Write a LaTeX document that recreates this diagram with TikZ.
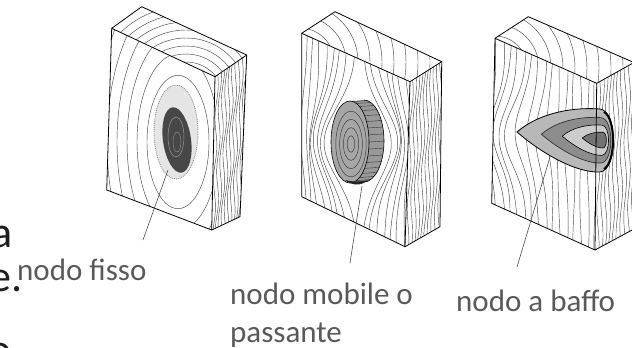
\documentclass[tikz,border=0pt]{standalone}
\usepackage{fontspec}
\setmainfont{Carlito}
\definecolor{labelgray}{RGB}{89,89,89}
\definecolor{bodyblack}{RGB}{30,30,30}
\tikzset{
  edge/.style={draw=black, line width=0.8pt, line join=round},
  faceFill/.style={fill=white},
  grain/.style={draw=black!72, line width=0.45pt},
  leader/.style={draw=black!70, line width=0.6pt},
  lbl/.style={text=labelgray, font=\fontsize{31}{38}\selectfont, inner sep=0pt, anchor=base west},
  bodytxt/.style={text=bodyblack, font=\fontsize{44}{53}\selectfont, inner sep=0pt, anchor=base west},
}
\begin{document}
\begin{tikzpicture}[x=1pt,y=-1pt]
\useasboundingbox (0,0) rectangle (632,348);

% ================= Block 1 : nodo fisso =================
\coordinate (b1a) at (111.7,28.3);
\coordinate (b1b) at (215,76.7);
\coordinate (b1c) at (211.7,230);
\coordinate (b1d) at (106.7,190);
\coordinate (b1e) at (141.7,6.7);
\coordinate (b1f) at (246.7,55);
\coordinate (b1g) at (240,216.7);
\path[faceFill] (b1a)--(b1e)--(b1f)--(b1g)--(b1c)--(b1d)--cycle;
% front face grain
\begin{scope}
  \clip (b1a)--(b1b)--(b1c)--(b1d)--cycle;
  \foreach \r [evaluate=\r as \ry using 2.15*\r] in {31,41,51,61,71,82}{
    \draw[grain] (178,142) ellipse [x radius=\r, y radius=\ry];
  }
\end{scope}
% top face grain
\begin{scope}
  \clip (b1a)--(b1e)--(b1f)--(b1b)--cycle;
  \foreach \r in {30,38,...,94}{
    \draw[grain] (186,100) circle [radius=\r];
  }
\end{scope}
% right face grain
\begin{scope}
  \clip (b1b)--(b1f)--(b1g)--(b1c)--cycle;
  \foreach \u in {0.07,0.17,...,0.97}{
    \draw[grain] plot[domain=0:1, samples=25, smooth, variable=\t]
      ({215+31.7*\u+(-3.3-3.4*\u)*\t+1.3*sin(\t*900+\u*400)}, {76.7-21.7*\u+(153.3+8.4*\u)*\t});
  }
\end{scope}
% knot 1
\draw[black!45, densely dotted, line width=0.9pt, fill=black!10] (176,132) ellipse [x radius=22, y radius=47];
\fill[black!72, rotate around={8:(177,140)}] (177,140) ellipse [x radius=14, y radius=33];
\draw[black!40, line width=0.5pt] (176,137) ellipse [x radius=8, y radius=20];
\draw[black!45, line width=0.5pt] (177,142) ellipse [x radius=4, y radius=10];
\draw[edge] (b1a)--(b1b)--(b1c)--(b1d)--cycle;
\draw[edge] (b1a)--(b1e)--(b1f)--(b1b);
\draw[edge] (b1f)--(b1g)--(b1c);
\coordinate (k1) at (168,170);
\coordinate (l1) at (143,240);
\draw[leader] (k1) -- (l1);

% ================= Block 2 : nodo mobile / passante =================
\coordinate (b2a) at (301.7,33.3);
\coordinate (b2b) at (410,81.7);
\coordinate (b2c) at (405,246.7);
\coordinate (b2d) at (301.7,196.7);
\coordinate (b2e) at (335,11.7);
\coordinate (b2f) at (441.7,61.7);
\coordinate (b2g) at (440,226.7);
\path[faceFill] (b2a)--(b2e)--(b2f)--(b2g)--(b2c)--(b2d)--cycle;
\begin{scope}
  \clip (b2a)--(b2b)--(b2c)--(b2d)--cycle;
  \foreach \xb in {306,313,...,406}{
    \pgfmathsetmacro\sg{\xb<358 ? -1 : 1}
    \pgfmathsetmacro\amp{\sg*30*exp(-((\xb-358)/38)^2)}
    \pgfmathsetmacro\ph{mod(\xb*13,360)}
    \draw[grain] plot[domain=0:260, samples=50, smooth, variable=\t]
      ({\xb+\amp*exp(-((\t-142)/50)^2)+1.2*sin(2.2*\t+\ph)}, {\t});
  }
\end{scope}
\begin{scope}
  \clip (b2a)--(b2e)--(b2f)--(b2b)--cycle;
  \foreach \r in {22,34,...,150}{
    \draw[grain] (300,62) circle [radius=\r];
  }
\end{scope}
\begin{scope}
  \clip (b2b)--(b2f)--(b2g)--(b2c)--cycle;
  \foreach \u in {0.07,0.17,...,0.97}{
    \draw[grain] plot[domain=0:1, samples=25, smooth, variable=\t]
      ({410+31.7*\u+(-5+3.3*\u)*\t+1.3*sin(\t*800+\u*300)}, {81.7-20*\u+165*\t});
  }
\end{scope}
% knot 2 (cylinder)
\fill[black!40] (350,101) -- (364,100) arc[start angle=-90, end angle=90, x radius=20, y radius=41] -- (350,183) -- cycle;
\foreach \a in {-80,-70,...,80}{
  \draw[black!80, line width=0.4pt] ({350+19*cos(\a)},{142+41*sin(\a)}) -- ({364+20*cos(\a)},{141+41*sin(\a)});
}
\draw[black, line width=0.6pt] (364,100) arc[start angle=-90, end angle=90, x radius=20, y radius=41];
\draw[black, line width=0.6pt, fill=black!35] (350,142) ellipse [x radius=19, y radius=41];
\foreach \s in {0.8,0.6,0.4,0.2}{
  \draw[black!75, line width=0.5pt] (351,144) ellipse [x radius={19*\s}, y radius={41*\s}];
}
\fill[black!85] (345,180) .. controls (352,186) and (362,186) .. (368,180) .. controls (360,182) and (352,182) .. (345,180) -- cycle;
\draw[edge] (b2a)--(b2b)--(b2c)--(b2d)--cycle;
\draw[edge] (b2a)--(b2e)--(b2f)--(b2b);
\draw[edge] (b2f)--(b2g)--(b2c);
\coordinate (k2) at (362,186);
\coordinate (l2) at (350,263);
\draw[leader] (k2) -- (l2);

% ================= Block 3 : nodo a baffo =================
\coordinate (b3a) at (495,38.3);
\coordinate (b3b) at (596.7,83.3);
\coordinate (b3c) at (595,250);
\coordinate (b3d) at (491.7,203.3);
\coordinate (b3e) at (528.3,16.7);
\coordinate (b3f) at (634,62.5);
\coordinate (b3g) at (634,229);
\path[faceFill] (b3a)--(b3e)--(b3f)--(b3g)--(b3c)--(b3d)--cycle;
\begin{scope}
  \clip (b3a)--(b3b)--(b3c)--(b3d)--cycle;
  \foreach \xb in {497,504,...,598}{
    \pgfmathsetmacro\amp{-20*exp(-((\xb-520)/30)^2)}
    \pgfmathsetmacro\ph{mod(\xb*17,360)}
    \draw[grain] plot[domain=0:260, samples=50, smooth, variable=\t]
      ({\xb+\amp*exp(-((\t-135)/42)^2)+1.2*sin(2.4*\t+\ph)}, {\t});
  }
\end{scope}
\begin{scope}
  \clip (b3a)--(b3e)--(b3f)--(b3b)--cycle;
  \foreach \r in {20,32,...,150}{
    \draw[grain] (495,68) circle [radius=\r];
  }
\end{scope}
\begin{scope}
  \clip (b3b)--(b3f)--(b3g)--(b3c)--cycle;
  \foreach \u in {0.07,0.17,...,0.97}{
    \draw[grain] plot[domain=0:1, samples=25, smooth, variable=\t]
      ({596.7+37.3*\u+(-1.7+1.7*\u)*\t+1.3*sin(\t*800+\u*350)}, {83.3-20.8*\u+166.5*\t});
  }
\end{scope}
% knot 3 (spike)
\def\spike{(517,132) .. controls (540,112) and (575,107) .. (600,109) .. controls (618,111) and (618,170) .. (600,172) .. controls (575,173) and (540,152) .. (517,132) -- cycle}
\draw[black, line width=0.8pt, fill=black!28] \spike;
\begin{scope}[shift={(604,140)}, scale=0.72, shift={(-604,-140)}]
  \draw[black!80, line width=0.7pt, fill=black!45] \spike;
\end{scope}
\begin{scope}[shift={(604,140)}, scale=0.48, shift={(-604,-140)}]
  \draw[black, line width=0.6pt, fill=black!20] \spike;
\end{scope}
\begin{scope}[shift={(604,140)}, scale=0.25, shift={(-604,-140)}]
  \draw[black, line width=0.6pt, fill=black!55] \spike;
\end{scope}
\draw[black, line width=2pt] (604,112) .. controls (616,118) and (616,162) .. (604,169);
\draw[edge] (b3a)--(b3b)--(b3c)--(b3d)--cycle;
\draw[edge] (b3a)--(b3e)--(b3f);
\draw[edge] (b3b)--(b3f);
\draw[edge] (b3g)--(b3c);
\coordinate (k3) at (550,157);
\coordinate (l3) at (517,267);
\draw[leader] (k3) -- (l3);

% ================= Labels =================
\node[lbl] (lbl1) at (17,280) {nodo fisso};
\node[lbl] (lbl2a) at (230,304) {nodo mobile o};
\node[lbl] (lbl2b) at (230,342) {passante};
\node[lbl] (lbl3) at (456,311) {nodo a baffo};

% cut-off body text at the left edge
\node[bodytxt] (ta) at (-9,247) {a};
\node[bodytxt] (te) at (-11,291) {e.};
\node[bodytxt] (to) at (-12,364) {o};
\end{tikzpicture}
\end{document}
